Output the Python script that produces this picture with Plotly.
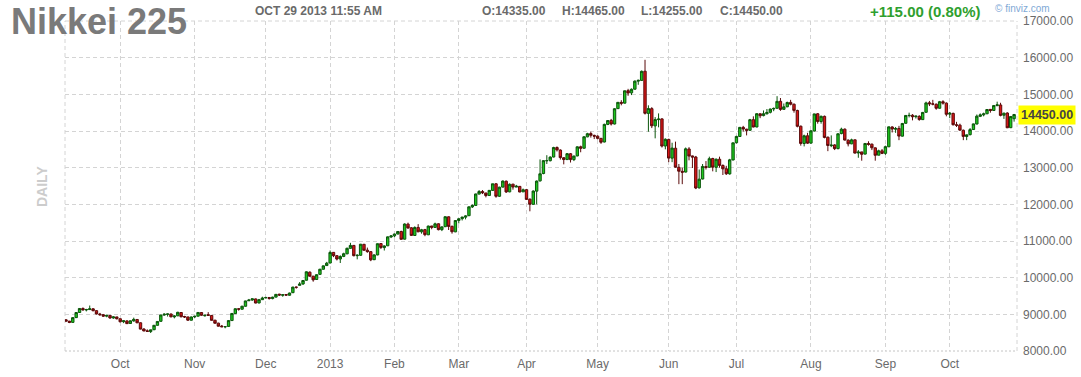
import plotly.graph_objects as go

# ---------------- data ----------------
month_labels = ["Oct", "Nov", "Dec", "2013", "Feb", "Mar", "Apr", "May", "Jun", "Jul", "Aug", "Sep", "Oct"]
# trading sessions per month block (first block = Sep 2012 part shown)
sessions_per_month = [16, 22, 21, 19, 19, 19, 20, 21, 21, 20, 22, 22, 19, 20]

y_ticks = [8000, 9000, 10000, 11000, 12000, 13000, 14000, 15000, 16000, 17000]

opens = [
    # Sep 2012
    8850, 8815, 8780, 8910, 9050, 9160, 9120, 9130, 9150, 9100, 9010, 8990, 8950, 8970, 8900, 8930,
    # Oct
    8880, 8800, 8820, 8750, 8820, 8860, 8770, 8600, 8550, 8530, 8580, 8700, 8810, 8980, 9000, 9010, 8930, 8960, 9050, 8940, 8930, 8840,
    # Nov
    8930, 8950, 9050, 8960, 8990, 8970, 8840, 8760, 8680, 8660, 8670, 8830, 9020, 9150, 9140, 9220, 9370, 9390, 9420, 9310, 9400,
    # Dec
    9450, 9460, 9430, 9470, 9550, 9520, 9540, 9520, 9590, 9740, 9790, 9830, 9930, 10150, 10040, 9950, 10090, 10230, 10330,
    # Jan 2013
    10400, 10690, 10600, 10510, 10580, 10650, 10800, 10880, 10600, 10610, 10910, 10750, 10710, 10490, 10620, 10930, 10820, 10870, 11110,
    # Feb
    11140, 11190, 11260, 11050, 11460, 11360, 11150, 11370, 11250, 11310, 11170, 11410, 11370, 11470, 11310, 11390, 11660, 11400, 11250,
    # Mar
    11560, 11610, 11650, 11690, 11930, 11970, 12280, 12350, 12310, 12240, 12380, 12560, 12220, 12470, 12630, 12340, 12550, 12470, 12490, 12340,
    # Apr
    12400, 12140, 12000, 12360, 12640, 12840, 13190, 13190, 13290, 13550, 13480, 13270, 13220, 13380, 13220, 13320, 13570, 13530, 13840, 13930, 13880,
    # May
    13860, 13800, 13700, 14180, 14290, 14190, 14610, 14780, 14760, 15100, 15040, 15140, 15360, 15380, 15630, 14480, 14610, 14140, 14310, 14330, 13590,
    # Jun
    13770, 13260, 13530, 13010, 12900, 12880, 13510, 13320, 13290, 12450, 12690, 13030, 13010, 13250, 13010, 13230, 13060, 12970, 12830, 13210,
    # Jul
    13680, 13850, 14100, 14050, 14020, 14310, 14110, 14470, 14420, 14470, 14510, 14600, 14620, 14810, 14590, 14660, 14780, 14730, 14560, 14130, 13660, 13870,
    # Aug
    13670, 14000, 14470, 14260, 14400, 13830, 13600, 13620, 13520, 13930, 14050, 13750, 13650, 13760, 13400, 13430, 13370, 13660, 13640, 13540, 13340, 13460,
    # Sep
    13390, 13570, 14110, 14050, 14070, 13860, 14210, 14420, 14430, 14390, 14400, 14310, 14510, 14770, 14740, 14730, 14620, 14800, 14760,
    # Oct
    14460, 14480, 14170, 14160, 14020, 13850, 13900, 14040, 14190, 14400, 14440, 14470, 14590, 14560, 14690, 14710, 14430, 14490, 14090, 14335,
]

highs = [
    8870, 8820, 8920, 9060, 9170, 9190, 9150, 9240, 9170, 9110, 9040, 9010, 8990, 8970, 8950, 8930,
    8880, 8830, 8840, 8830, 8910, 8870, 8780, 8620, 8590, 8580, 8710, 8810, 8990, 9030, 9020, 9020, 8970, 9070, 9060, 8960, 8930, 8940,
    8960, 9060, 9060, 8990, 9060, 8980, 8850, 8770, 8710, 8680, 8840, 9030, 9160, 9170, 9230, 9370, 9420, 9430, 9430, 9420, 9480,
    9480, 9470, 9480, 9550, 9560, 9540, 9550, 9590, 9750, 9760, 9880, 9930, 10170, 10170, 10050, 10090, 10240, 10330, 10430,
    10740, 10700, 10610, 10610, 10680, 10820, 10950, 10890, 10640, 10920, 10920, 10820, 10720, 10640, 10930, 10940, 10880, 11120, 11160,
    11200, 11270, 11280, 11480, 11500, 11380, 11400, 11460, 11330, 11330, 11420, 11410, 11500, 11480, 11400, 11670, 11670, 11420, 11560,
    11620, 11660, 11700, 11940, 12000, 12290, 12390, 12390, 12300, 12390, 12560, 12580, 12480, 12650, 12650, 12570, 12560, 12530, 12500, 12430,
    12420, 12160, 12380, 12650, 13225, 13200, 13340, 13310, 13570, 13580, 13500, 13290, 13400, 13400, 13330, 13580, 13600, 13850, 13950, 13980, 13900,
    13880, 13810, 14200, 14290, 14330, 14620, 14790, 14840, 15100, 15150, 15160, 15380, 15400, 15650, 15942, 14700, 14650, 14380, 14480, 14350, 13800,
    13790, 13680, 13710, 13100, 13000, 13550, 13560, 13330, 13320, 12950, 13100, 13180, 13300, 13270, 13250, 13300, 13090, 13050, 13240, 13680,
    13870, 14110, 14140, 14060, 14330, 14400, 14480, 14480, 14560, 14600, 14610, 14640, 14950, 14900, 14750, 14800, 14850, 14750, 14580, 14150, 13900, 13950,
    14020, 14470, 14490, 14420, 14420, 13850, 13880, 13640, 13930, 14090, 14070, 13770, 13790, 13760, 13480, 13430, 13670, 13720, 13660, 13550, 13490, 13510,
    13600, 14120, 14130, 14110, 14140, 14220, 14430, 14500, 14460, 14420, 14430, 14520, 14800, 14820, 14850, 14750, 14820, 14840, 14780,
    14520, 14500, 14250, 14200, 14040, 13900, 14080, 14200, 14450, 14480, 14500, 14600, 14600, 14710, 14800, 14770, 14500, 14510, 14400, 14465,
]

lows = [
    8800, 8760, 8780, 8900, 9040, 9100, 9080, 9120, 9080, 9000, 8960, 8930, 8920, 8880, 8880, 8860,
    8780, 8760, 8740, 8750, 8800, 8760, 8590, 8540, 8520, 8490, 8570, 8690, 8800, 8960, 8940, 8920, 8890, 8950, 8920, 8900, 8820, 8830,
    8900, 8940, 8960, 8940, 8960, 8830, 8750, 8670, 8650, 8620, 8660, 8820, 9010, 9100, 9130, 9210, 9370, 9370, 9300, 9300, 9390,
    9430, 9400, 9410, 9460, 9500, 9480, 9500, 9510, 9580, 9700, 9790, 9800, 9920, 10030, 9890, 9940, 10080, 10220, 10320,
    10390, 10560, 10470, 10400, 10560, 10640, 10790, 10580, 10500, 10600, 10740, 10680, 10450, 10480, 10610, 10780, 10740, 10860, 11080,
    11100, 11180, 11040, 11040, 11330, 11140, 11140, 11240, 11200, 11130, 11160, 11320, 11360, 11290, 11270, 11380, 11300, 11200, 11240,
    11480, 11560, 11590, 11680, 11900, 11960, 12270, 12280, 12190, 12240, 12370, 12180, 12200, 12460, 12310, 12330, 12400, 12470, 12330, 12340,
    12120, 11810, 11990, 12000, 12620, 12820, 13100, 13170, 13280, 13440, 13220, 13090, 13210, 13140, 13180, 13310, 13420, 13520, 13830, 13820, 13780,
    13770, 13650, 13690, 14160, 14150, 14180, 14600, 14700, 14750, 14960, 14980, 15130, 15260, 15370, 14450, 13980, 14080, 13800, 14100, 13550, 13500,
    13150, 13150, 13000, 12550, 12550, 12870, 13200, 12990, 12415, 12430, 12680, 12950, 13000, 12900, 12880, 13000, 12800, 12800, 12810, 13200,
    13660, 13840, 13980, 13880, 14000, 14100, 14100, 14350, 14400, 14450, 14480, 14540, 14610, 14550, 14590, 14650, 14700, 14500, 14100, 13600, 13580, 13650,
    13650, 13990, 14200, 14200, 13800, 13450, 13560, 13480, 13500, 13910, 13740, 13580, 13640, 13390, 13270, 13190, 13360, 13600, 13480, 13190, 13340, 13370,
    13350, 13560, 13960, 13950, 13750, 13850, 14200, 14370, 14290, 14340, 14280, 14300, 14500, 14680, 14700, 14580, 14610, 14720, 14400,
    14350, 14150, 14110, 14000, 13750, 13750, 13880, 14030, 14180, 14380, 14400, 14460, 14500, 14550, 14680, 14400, 14330, 14080, 14080, 14255,
]

closes = [
    8815, 8780, 8910, 9050, 9160, 9120, 9130, 9150, 9100, 9010, 8990, 8950, 8970, 8900, 8930, 8880,
    8797, 8824, 8746, 8824, 8863, 8769, 8597, 8546, 8534, 8577, 8701, 8806, 8982, 9002, 9010, 8932, 8955, 9055, 8933, 8929, 8841, 8928,
    8946, 9051, 8975, 8975, 8972, 8837, 8757, 8676, 8661, 8664, 8829, 9024, 9153, 9142, 9222, 9366, 9388, 9423, 9308, 9400, 9446,
    9458, 9432, 9468, 9545, 9527, 9534, 9525, 9581, 9743, 9737, 9828, 9923, 10160, 10039, 9940, 10080, 10230, 10322, 10395,
    10688, 10599, 10508, 10578, 10652, 10801, 10879, 10600, 10610, 10913, 10747, 10709, 10486, 10620, 10926, 10824, 10866, 11113, 11138,
    11191, 11260, 11046, 11463, 11357, 11153, 11369, 11251, 11307, 11173, 11407, 11372, 11468, 11309, 11385, 11662, 11398, 11253, 11559,
    11606, 11652, 11683, 11932, 11968, 12283, 12349, 12314, 12239, 12381, 12560, 12220, 12468, 12635, 12338, 12546, 12471, 12493, 12336, 12397,
    12135, 12003, 12362, 12634, 12833, 13192, 13192, 13288, 13549, 13485, 13275, 13221, 13382, 13220, 13316, 13568, 13529, 13843, 13926, 13884, 13860,
    13799, 13694, 14180, 14285, 14191, 14607, 14782, 14758, 15096, 15037, 15138, 15360, 15381, 15627, 14483, 14612, 14142, 14311, 14326, 13589, 13774,
    13261, 13534, 13014, 12904, 12877, 13514, 13317, 13289, 12445, 12686, 13033, 13007, 13245, 13014, 13230, 13062, 12969, 12834, 13213, 13677,
    13852, 14099, 14055, 14018, 14309, 14109, 14472, 14416, 14472, 14506, 14599, 14615, 14808, 14589, 14658, 14778, 14731, 14562, 14129, 13661, 13869, 13668,
    14005, 14466, 14258, 14401, 13825, 13605, 13615, 13519, 13925, 14050, 13753, 13650, 13758, 13397, 13425, 13365, 13660, 13636, 13542, 13338, 13460, 13389,
    13573, 14113, 14054, 14065, 13861, 14205, 14424, 14425, 14388, 14405, 14312, 14506, 14766, 14742, 14733, 14620, 14799, 14760, 14456,
    14484, 14171, 14157, 14024, 13853, 13895, 14037, 14194, 14405, 14441, 14467, 14586, 14561, 14693, 14713, 14426, 14486, 14088, 14396, 14450,
]

header_date = "OCT 29 2013 11:55 AM"
quote_o, quote_h, quote_l, quote_c = 14335.00, 14465.00, 14255.00, 14450.00
change, change_pct = 115.00, 0.80

# ---------------- figure ----------------
n = min(len(opens), len(highs), len(lows), len(closes))
xs = list(range(n))

tick_pos = []
acc = 0
for cnt in sessions_per_month[:-1]:
    acc += cnt
    tick_pos.append(acc)

W, H = 1081, 377
plot_left, plot_right, plot_top, plot_bottom = 65, 1017, 21, 351
L, R, T, B = plot_left, W - plot_right, plot_top, H - plot_bottom
pw, ph = plot_right - plot_left, plot_bottom - plot_top


def px_x(p):   # pixel -> paper x
    return (p - plot_left) / pw


def px_y(p):   # pixel -> paper y
    return (plot_bottom - p) / ph


grid_col = "#d4d4d4"
grid_dash = "4px,3px"

fig = go.Figure()
fig.add_trace(go.Candlestick(
    x=xs, open=opens[:n], high=highs[:n], low=lows[:n], close=closes[:n],
    increasing=dict(fillcolor="#1ec81e", line=dict(color="#0b560b", width=1)),
    decreasing=dict(fillcolor="#d81616", line=dict(color="#5a0a0a", width=1)),
    whiskerwidth=0, hoverinfo="skip", showlegend=False,
))

lbl_font = dict(family="Liberation Sans, Arial, sans-serif", size=12, color="#6a6a6a")

fig.update_layout(
    width=W, height=H,
    margin=dict(l=L, r=R, t=T, b=B, pad=0, autoexpand=False),
    paper_bgcolor="white", plot_bgcolor="white",
    showlegend=False,
    boxgap=0.0,
    xaxis=dict(
        range=[-0.3, n - 1 + 0.86],
        rangeslider=dict(visible=False),
        tickmode="array", tickvals=tick_pos, ticktext=month_labels,
        showgrid=True, gridcolor=grid_col, griddash=grid_dash, gridwidth=1,
        zeroline=False, showline=False, ticks="", automargin=False,
        tickfont=lbl_font, ticklabelstandoff=4,
        fixedrange=True,
    ),
    yaxis=dict(
        range=[8000, 17000], side="right",
        tickmode="array", tickvals=y_ticks, ticktext=[f"{v:.2f}" for v in y_ticks],
        showgrid=True, gridcolor=grid_col, griddash=grid_dash, gridwidth=1,
        zeroline=False, showline=False, ticks="", automargin=False,
        tickfont=lbl_font, ticklabelstandoff=5,
        fixedrange=True,
    ),
)

# plot frame (dashed, like the grid)
for (x0, y0, x1, y1) in [(0, 0, 0, 1), (1, 0, 1, 1), (0, 1, 1, 1)]:
    fig.add_shape(type="line", xref="paper", yref="paper", x0=x0, y0=y0, x1=x1, y1=y1,
                  line=dict(color=grid_col, width=1, dash=grid_dash), layer="below")
fig.add_shape(type="line", xref="paper", yref="paper", x0=0, y0=0, x1=1, y1=0,
              line=dict(color="#c4c4c4", width=1, dash="2px,2px"), layer="below")

hdr = dict(family="Liberation Sans, Arial, sans-serif", size=12, color="#6a6a6a", weight=700)

annos = [
    dict(text="Nikkei 225", x=px_x(9), y=px_y(21), xanchor="left", yanchor="middle",
         font=dict(family="Liberation Sans, Arial, sans-serif", size=36, color="#7a7a7a", weight=700)),
    dict(text=header_date, x=px_x(253), y=px_y(11), xanchor="left", yanchor="middle", font=hdr),
    dict(text=f"O:{quote_o:.2f}", x=px_x(480), y=px_y(11), xanchor="left", yanchor="middle", font=hdr),
    dict(text=f"H:{quote_h:.2f}", x=px_x(560), y=px_y(11), xanchor="left", yanchor="middle", font=hdr),
    dict(text=f"L:{quote_l:.2f}", x=px_x(639), y=px_y(11), xanchor="left", yanchor="middle", font=hdr),
    dict(text=f"C:{quote_c:.2f}", x=px_x(718), y=px_y(11), xanchor="left", yanchor="middle", font=hdr),
    dict(text=f"+{change:.2f} ({change_pct:.2f}%)", x=px_x(868), y=px_y(12), xanchor="left", yanchor="middle",
         font=dict(family="Liberation Sans, Arial, sans-serif", size=15, color="#2f9f2f", weight=700)),
    dict(text="© finviz.com", x=px_x(993), y=px_y(9), xanchor="left", yanchor="middle",
         font=dict(family="Liberation Sans, Arial, sans-serif", size=10, color="#7fa9d6")),
    dict(text="DAILY", x=px_x(42), y=px_y(187), xanchor="center", yanchor="middle", textangle=-90,
         font=dict(family="Liberation Sans, Arial, sans-serif", size=14, color="#cccccc", weight=700)),
]
for a in annos:
    fig.add_annotation(xref="paper", yref="paper", showarrow=False, **a)

# last-price tag on the right axis
fig.add_annotation(xref="paper", yref="y", x=px_x(1018), y=quote_c, xanchor="left", yanchor="middle",
                   text=f"{quote_c:.2f}", showarrow=False, bgcolor="#ffff00", borderpad=2,
                   font=dict(family="Liberation Sans, Arial, sans-serif", size=12.5, color="#444444", weight=700))

# remove the browser's default 8px page margin so the figure sits at the window origin
fig.write_html("out.html",
               config={"displayModeBar": False, "staticPlot": True},
               post_script="document.body.style.margin='0';document.body.style.padding='0';")
